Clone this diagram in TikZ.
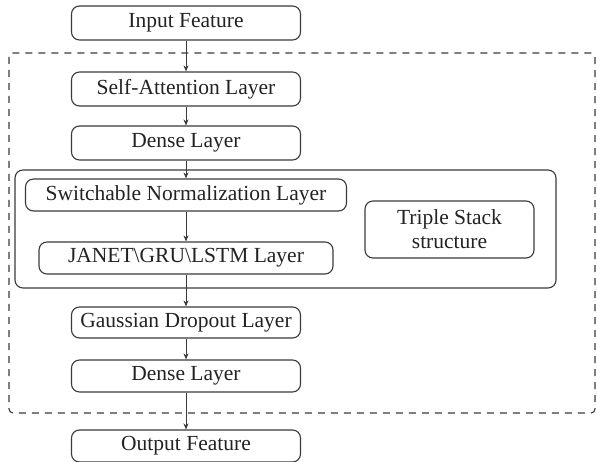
\documentclass[tikz,border=0pt]{standalone}
\usepackage{fontspec}
\setmainfont{Liberation Serif}
\usetikzlibrary{arrows.meta, positioning}
\definecolor{linegray}{HTML}{3A3A3A}
\definecolor{textgray}{HTML}{222222}

\begin{document}
\begin{tikzpicture}[x=1pt, y=-1pt, >={Stealth[length=6pt, width=5pt]},
	layer/.style={draw=linegray, line width=1.1pt, rounded corners=8pt, inner sep=0pt,
		minimum width=229pt, minimum height=34pt, text=textgray,
		font=\fontsize{21.5}{24}\selectfont, align=center},
	flow/.style={->, draw=linegray, line width=0.9pt}]
			% Page
			\useasboundingbox (0,0) rectangle (597,462);
			
			% Outer dashed frame
			\draw[linegray, line width=1.1pt, dash pattern=on 7pt off 6pt, rounded corners=4pt] (9,53) rectangle (595,413);
			
			% Triple stack frame
			\draw[linegray, line width=1.1pt, rounded corners=8pt] (15,170) rectangle (556,288);
			
			% Layers
			\node[layer] (input) at (186,23) {Input Feature};
			\node[layer] (selfatt) at (186,89) {Self-Attention Layer};
			\node[layer] (dense1) at (186,143) {Dense Layer};
			\node[layer, minimum width=321pt, minimum height=32pt] (switchnorm) at (186,195) {Switchable Normalization Layer};
			\node[layer, minimum width=294pt, minimum height=32pt] (rnn) at (186,258) {JANET\textbackslash GRU\textbackslash LSTM Layer};
			\node[layer, minimum width=169pt, minimum height=57pt] (triple) at (449.5,229.5) {Triple Stack\\structure};
			\node[layer, minimum height=31pt] (gauss) at (186,322.5) {Gaussian Dropout Layer};
			\node[layer, minimum height=32pt] (dense2) at (186,376) {Dense Layer};
			\node[layer, minimum height=32pt] (output) at (186,446) {Output Feature};
			
			% Connections
			\draw[flow] (input) -- (selfatt);
			\draw[flow] (selfatt) -- (dense1);
			\draw[flow] (dense1) -- (switchnorm);
			\draw[flow] (switchnorm) -- (rnn);
			\draw[flow] (rnn) -- (gauss);
			\draw[flow] (gauss) -- (dense2);
			\draw[flow] (dense2) -- (output);
			
\end{tikzpicture}
\end{document}
